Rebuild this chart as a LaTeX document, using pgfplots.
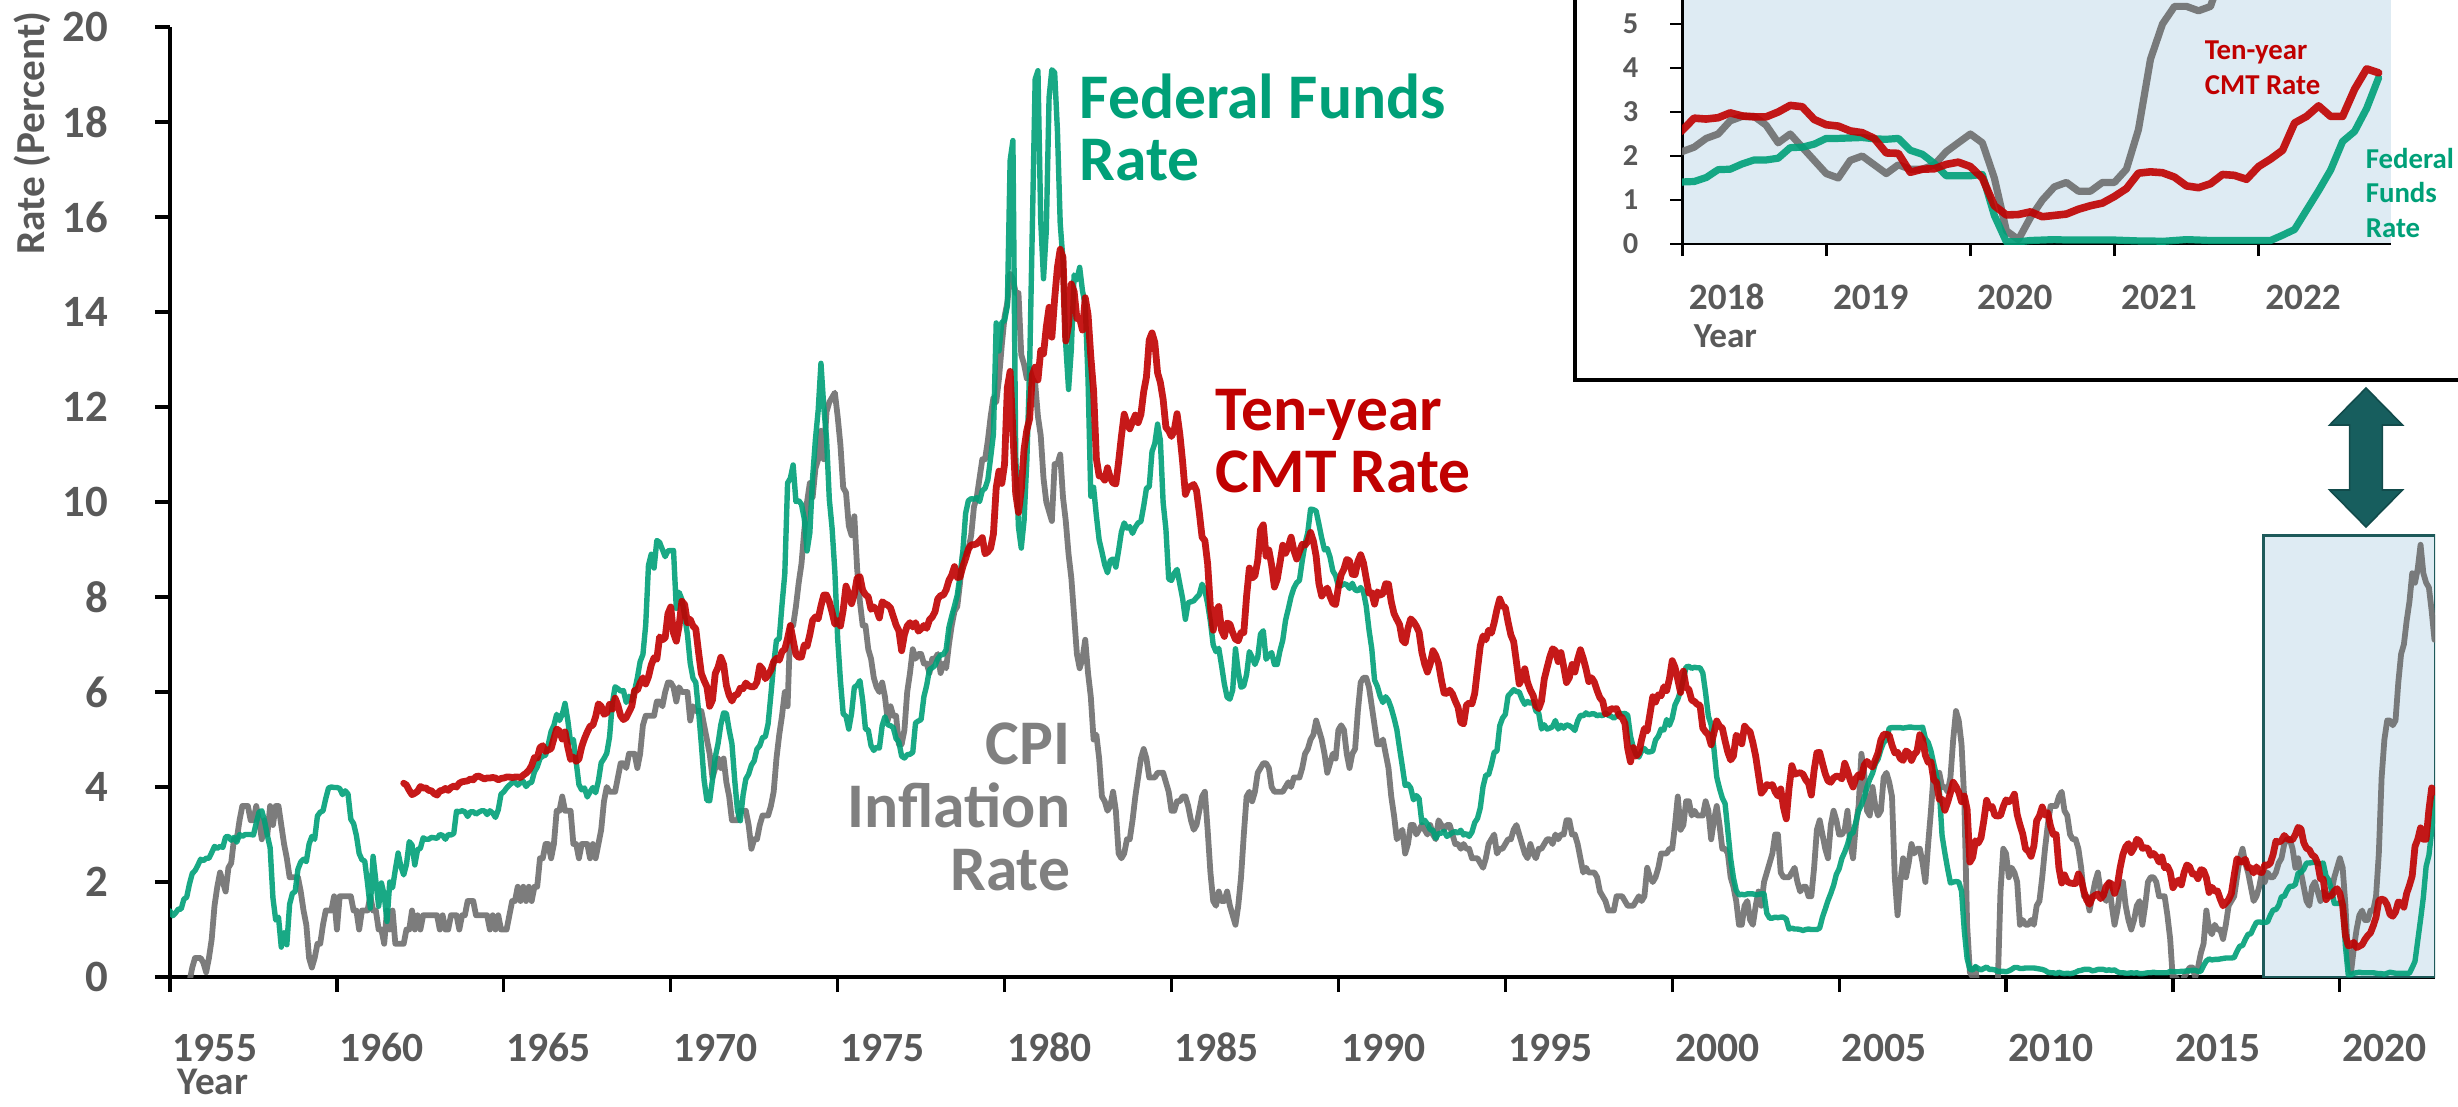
\documentclass[border=0pt]{standalone}
\usepackage{pgfplots}
\pgfplotsset{compat=1.18}
\usepackage{pgfplotstable}
\usepackage{fontspec}
\setmainfont{Carlito}

\definecolor{ffgreen}{RGB}{0,160,120}
\definecolor{cmtred}{RGB}{192,0,0}
\definecolor{cpigrey}{RGB}{110,110,110}
\definecolor{cpitext}{RGB}{128,128,128}
\definecolor{ticktext}{RGB}{89,89,89}
\definecolor{lightblue}{RGB}{222,235,243}
\definecolor{boxteal}{RGB}{30,90,90}
\definecolor{arrowteal}{RGB}{23,94,94}

% Effective federal funds rate, monthly from Jan 1955
\pgfplotstableread[row sep=\\, header=false]{
1.39\\1.29\\1.35\\1.43\\1.43\\1.64\\1.68\\1.96\\2.18\\2.24\\2.35\\2.48\\
2.45\\2.50\\2.50\\2.62\\2.75\\2.71\\2.75\\2.73\\2.95\\2.96\\2.88\\2.94\\
2.84\\3.00\\2.96\\3.00\\3.00\\3.00\\2.99\\3.24\\3.47\\3.50\\3.28\\2.98\\
2.72\\1.67\\1.20\\1.26\\0.63\\0.93\\0.68\\1.53\\1.76\\1.80\\2.27\\2.42\\
2.48\\2.43\\2.80\\2.96\\2.90\\3.39\\3.47\\3.50\\3.76\\3.98\\4.00\\3.99\\
3.99\\3.97\\3.84\\3.92\\3.85\\3.32\\3.23\\2.98\\2.60\\2.47\\2.44\\1.98\\
1.45\\2.54\\2.02\\1.49\\1.98\\1.73\\1.17\\2.00\\1.88\\2.26\\2.61\\2.33\\
2.15\\2.37\\2.85\\2.78\\2.36\\2.68\\2.71\\2.93\\2.90\\2.90\\2.94\\2.93\\
2.92\\3.00\\2.98\\2.90\\3.00\\2.99\\3.02\\3.49\\3.48\\3.50\\3.48\\3.38\\
3.48\\3.48\\3.43\\3.47\\3.50\\3.50\\3.42\\3.50\\3.45\\3.36\\3.52\\3.85\\
3.90\\3.98\\4.04\\4.09\\4.10\\4.04\\4.09\\4.12\\4.01\\4.08\\4.10\\4.32\\
4.42\\4.60\\4.65\\4.67\\4.90\\5.17\\5.30\\5.53\\5.40\\5.53\\5.76\\5.40\\
4.94\\5.00\\4.53\\4.05\\3.94\\3.98\\3.79\\3.90\\3.99\\3.88\\4.13\\4.51\\
4.60\\4.71\\5.05\\5.76\\6.11\\6.07\\6.02\\6.03\\5.78\\5.91\\5.82\\6.02\\
6.30\\6.64\\6.79\\7.41\\8.67\\8.90\\8.61\\9.19\\9.15\\9.00\\8.85\\8.97\\
8.98\\8.98\\7.76\\8.10\\7.95\\7.61\\7.21\\6.61\\6.29\\6.20\\5.60\\4.90\\
4.14\\3.72\\3.71\\4.15\\4.63\\4.91\\5.31\\5.56\\5.55\\5.20\\4.91\\4.14\\
3.50\\3.29\\3.83\\4.17\\4.27\\4.46\\4.55\\4.80\\4.87\\5.04\\5.06\\5.33\\
5.94\\6.58\\7.09\\7.12\\7.84\\8.49\\10.40\\10.50\\10.78\\10.01\\10.03\\9.95\\
9.65\\8.97\\9.35\\10.51\\11.31\\11.93\\12.92\\12.01\\11.34\\10.06\\9.45\\8.53\\
7.13\\6.24\\5.54\\5.49\\5.22\\5.55\\6.10\\6.14\\6.24\\5.82\\5.22\\5.20\\
4.87\\4.77\\4.84\\4.82\\5.29\\5.48\\5.31\\5.29\\5.25\\5.02\\4.95\\4.65\\
4.61\\4.68\\4.69\\4.73\\5.35\\5.39\\5.42\\5.90\\6.14\\6.47\\6.51\\6.56\\
6.70\\6.78\\6.79\\6.89\\7.36\\7.60\\7.81\\8.04\\8.45\\8.96\\9.76\\10.03\\
10.07\\10.06\\10.09\\10.01\\10.24\\10.29\\10.47\\10.94\\11.43\\13.77\\13.18\\13.78\\
13.82\\14.13\\17.19\\17.61\\10.98\\9.47\\9.03\\9.61\\10.87\\12.81\\15.85\\18.90\\
19.08\\15.93\\14.70\\15.72\\18.52\\19.10\\19.04\\17.82\\15.87\\15.08\\13.31\\12.37\\
13.22\\14.78\\14.68\\14.94\\14.45\\14.15\\12.59\\10.12\\10.31\\9.71\\9.20\\8.95\\
8.68\\8.51\\8.77\\8.80\\8.63\\8.98\\9.37\\9.56\\9.45\\9.48\\9.34\\9.47\\
9.56\\9.59\\9.91\\10.29\\10.32\\11.06\\11.23\\11.64\\11.30\\9.99\\9.43\\8.38\\
8.35\\8.50\\8.58\\8.27\\7.97\\7.53\\7.88\\7.90\\7.92\\7.99\\8.05\\8.27\\
8.14\\7.86\\7.48\\6.99\\6.85\\6.92\\6.56\\6.17\\5.89\\5.85\\6.04\\6.91\\
6.43\\6.10\\6.13\\6.37\\6.85\\6.73\\6.58\\6.73\\7.22\\7.29\\6.69\\6.77\\
6.83\\6.58\\6.58\\6.87\\7.09\\7.51\\7.75\\8.01\\8.19\\8.30\\8.35\\8.76\\
9.12\\9.36\\9.85\\9.84\\9.81\\9.53\\9.24\\8.99\\9.02\\8.84\\8.55\\8.45\\
8.23\\8.24\\8.28\\8.26\\8.18\\8.29\\8.15\\8.13\\8.20\\8.11\\7.81\\7.31\\
6.91\\6.25\\6.12\\5.91\\5.78\\5.90\\5.82\\5.66\\5.45\\5.21\\4.81\\4.43\\
4.03\\4.06\\3.98\\3.73\\3.82\\3.76\\3.25\\3.30\\3.22\\3.10\\3.09\\2.92\\
3.02\\3.03\\3.07\\2.96\\3.00\\3.04\\3.06\\3.03\\3.09\\2.99\\3.02\\2.96\\
3.05\\3.25\\3.34\\3.56\\4.01\\4.25\\4.26\\4.47\\4.73\\4.76\\5.29\\5.45\\
5.53\\5.92\\5.98\\6.05\\6.01\\6.00\\5.85\\5.74\\5.80\\5.76\\5.80\\5.60\\
5.56\\5.22\\5.31\\5.22\\5.24\\5.27\\5.40\\5.22\\5.30\\5.24\\5.31\\5.29\\
5.25\\5.19\\5.39\\5.51\\5.50\\5.56\\5.52\\5.54\\5.54\\5.50\\5.52\\5.50\\
5.56\\5.51\\5.49\\5.45\\5.49\\5.56\\5.54\\5.55\\5.51\\5.07\\4.83\\4.68\\
4.63\\4.76\\4.81\\4.74\\4.74\\4.76\\4.99\\5.07\\5.22\\5.20\\5.42\\5.30\\
5.45\\5.73\\5.85\\6.02\\6.27\\6.53\\6.54\\6.50\\6.52\\6.51\\6.51\\6.40\\
5.98\\5.49\\5.31\\4.80\\4.21\\3.97\\3.77\\3.65\\3.07\\2.49\\2.09\\1.82\\
1.73\\1.74\\1.73\\1.75\\1.75\\1.75\\1.73\\1.74\\1.75\\1.75\\1.34\\1.24\\
1.24\\1.26\\1.25\\1.26\\1.26\\1.22\\1.01\\1.03\\1.01\\1.01\\1.00\\0.98\\
1.00\\1.01\\1.00\\1.00\\1.00\\1.03\\1.26\\1.43\\1.61\\1.76\\1.93\\2.16\\
2.28\\2.50\\2.63\\2.79\\3.00\\3.04\\3.26\\3.50\\3.62\\3.78\\4.00\\4.16\\
4.29\\4.49\\4.59\\4.79\\4.94\\4.99\\5.24\\5.25\\5.25\\5.25\\5.25\\5.24\\
5.25\\5.26\\5.26\\5.25\\5.25\\5.25\\5.26\\5.02\\4.94\\4.76\\4.49\\4.24\\
3.94\\2.98\\2.61\\2.28\\1.98\\2.00\\2.01\\2.00\\1.81\\0.97\\0.39\\0.16\\
0.15\\0.22\\0.18\\0.15\\0.18\\0.21\\0.16\\0.16\\0.15\\0.12\\0.12\\0.12\\
0.11\\0.13\\0.16\\0.20\\0.20\\0.18\\0.18\\0.19\\0.19\\0.19\\0.19\\0.18\\
0.17\\0.16\\0.14\\0.10\\0.09\\0.09\\0.07\\0.10\\0.08\\0.07\\0.08\\0.07\\
0.08\\0.10\\0.13\\0.14\\0.16\\0.16\\0.16\\0.13\\0.14\\0.16\\0.16\\0.16\\
0.14\\0.15\\0.14\\0.15\\0.11\\0.09\\0.09\\0.08\\0.08\\0.09\\0.08\\0.09\\
0.07\\0.07\\0.08\\0.09\\0.09\\0.10\\0.09\\0.09\\0.09\\0.09\\0.09\\0.12\\
0.11\\0.11\\0.11\\0.12\\0.12\\0.13\\0.13\\0.14\\0.14\\0.12\\0.12\\0.24\\
0.34\\0.38\\0.36\\0.37\\0.37\\0.38\\0.39\\0.40\\0.40\\0.40\\0.41\\0.54\\
0.65\\0.66\\0.79\\0.90\\0.91\\1.04\\1.15\\1.16\\1.15\\1.15\\1.16\\1.30\\
1.41\\1.42\\1.51\\1.69\\1.70\\1.82\\1.91\\1.91\\1.95\\2.19\\2.20\\2.27\\
2.40\\2.40\\2.41\\2.42\\2.39\\2.38\\2.40\\2.13\\2.04\\1.83\\1.55\\1.55\\
1.55\\1.58\\0.65\\0.05\\0.05\\0.08\\0.09\\0.10\\0.09\\0.09\\0.09\\0.09\\
0.09\\0.08\\0.07\\0.07\\0.06\\0.08\\0.10\\0.09\\0.08\\0.08\\0.08\\0.08\\
0.08\\0.08\\0.20\\0.33\\0.77\\1.21\\1.68\\2.33\\2.56\\3.08\\3.78\\
}\ffr

% CPI inflation (year over year), monthly from Jan 1955
\pgfplotstableread[row sep=\\, header=false]{
-0.7\\-0.7\\-0.7\\-0.4\\-0.7\\-0.4\\-0.4\\-0.1\\0.2\\0.4\\0.4\\0.4\\
0.3\\0.1\\0.4\\0.8\\1.5\\1.9\\2.2\\2.0\\1.8\\2.3\\2.4\\2.9\\
2.9\\3.3\\3.6\\3.6\\3.6\\3.3\\3.3\\3.6\\3.3\\2.9\\3.3\\3.0\\
3.6\\3.2\\3.6\\3.6\\3.2\\2.8\\2.5\\2.1\\2.1\\2.1\\2.1\\1.8\\
1.4\\1.1\\0.4\\0.2\\0.4\\0.7\\0.7\\1.1\\1.4\\1.4\\1.4\\1.7\\
1.0\\1.7\\1.7\\1.7\\1.7\\1.7\\1.4\\1.4\\1.0\\1.4\\1.4\\1.4\\
1.7\\1.4\\1.4\\1.0\\1.0\\0.7\\1.4\\1.0\\1.4\\0.7\\0.7\\0.7\\
0.7\\1.0\\1.0\\1.4\\1.0\\1.3\\1.0\\1.3\\1.3\\1.3\\1.3\\1.3\\
1.3\\1.0\\1.3\\1.0\\1.0\\1.3\\1.3\\1.3\\1.0\\1.3\\1.3\\1.6\\
1.6\\1.6\\1.3\\1.3\\1.3\\1.3\\1.3\\1.0\\1.3\\1.0\\1.3\\1.0\\
1.0\\1.0\\1.3\\1.6\\1.6\\1.9\\1.6\\1.9\\1.6\\1.9\\1.6\\1.9\\
1.9\\2.5\\2.5\\2.8\\2.8\\2.5\\2.8\\3.5\\3.5\\3.8\\3.5\\3.5\\
3.5\\2.8\\2.8\\2.5\\2.8\\2.8\\2.8\\2.5\\2.8\\2.5\\2.8\\3.1\\
3.7\\4.0\\3.9\\3.9\\3.9\\4.2\\4.5\\4.5\\4.4\\4.7\\4.7\\4.7\\
4.4\\4.7\\5.3\\5.5\\5.5\\5.5\\5.5\\5.8\\5.8\\5.7\\6.0\\6.2\\
6.2\\6.1\\5.8\\6.1\\6.0\\6.0\\6.0\\5.4\\5.7\\5.6\\5.6\\5.6\\
5.3\\5.0\\4.7\\4.2\\4.4\\4.6\\4.4\\4.6\\4.1\\3.8\\3.3\\3.3\\
3.3\\3.5\\3.5\\3.5\\3.2\\2.7\\2.9\\2.9\\3.2\\3.4\\3.4\\3.4\\
3.6\\3.9\\4.6\\5.1\\5.5\\6.0\\5.7\\7.4\\7.4\\7.8\\8.3\\8.7\\
9.4\\10.0\\10.4\\10.1\\10.7\\10.9\\11.5\\10.9\\11.9\\12.1\\12.2\\12.3\\
11.8\\11.2\\10.3\\10.2\\9.5\\9.3\\9.7\\8.6\\7.9\\7.4\\7.4\\6.9\\
6.7\\6.3\\6.1\\6.0\\6.2\\5.9\\5.4\\5.7\\5.5\\5.5\\4.9\\4.9\\
5.2\\6.0\\6.4\\6.9\\6.7\\6.8\\6.8\\6.6\\6.6\\6.4\\6.7\\6.7\\
6.8\\6.4\\6.6\\6.5\\7.0\\7.4\\7.7\\7.8\\8.3\\8.9\\8.9\\9.0\\
9.3\\9.9\\10.1\\10.5\\10.9\\10.9\\11.3\\11.8\\12.2\\12.1\\12.6\\13.3\\
13.9\\14.2\\14.8\\14.7\\14.4\\14.4\\13.1\\12.9\\12.6\\12.8\\12.6\\12.5\\
11.8\\11.4\\10.5\\10.0\\9.8\\9.6\\10.8\\10.8\\11.0\\10.1\\9.6\\8.9\\
8.4\\7.6\\6.8\\6.5\\6.7\\7.1\\6.4\\5.9\\5.0\\5.1\\4.6\\3.8\\
3.7\\3.5\\3.6\\3.9\\3.5\\2.6\\2.5\\2.6\\2.9\\2.9\\3.3\\3.8\\
4.2\\4.6\\4.8\\4.6\\4.2\\4.2\\4.2\\4.3\\4.3\\4.3\\4.1\\3.9\\
3.5\\3.5\\3.7\\3.7\\3.8\\3.8\\3.6\\3.3\\3.1\\3.2\\3.5\\3.8\\
3.9\\3.1\\2.2\\1.6\\1.5\\1.8\\1.6\\1.6\\1.8\\1.5\\1.3\\1.1\\
1.5\\2.1\\3.0\\3.8\\3.9\\3.7\\3.9\\4.3\\4.4\\4.5\\4.5\\4.4\\
4.0\\3.9\\3.9\\3.9\\3.9\\4.0\\4.1\\4.0\\4.2\\4.2\\4.2\\4.4\\
4.7\\4.8\\5.0\\5.1\\5.4\\5.2\\5.0\\4.7\\4.3\\4.5\\4.7\\4.6\\
5.2\\5.3\\5.2\\4.7\\4.4\\4.7\\4.8\\5.6\\6.2\\6.3\\6.3\\6.1\\
5.7\\5.3\\4.9\\4.9\\5.0\\4.7\\4.4\\3.8\\3.4\\2.9\\3.0\\3.1\\
2.6\\2.8\\3.2\\3.2\\3.0\\3.1\\3.2\\3.1\\3.0\\3.2\\3.0\\2.9\\
3.3\\3.2\\3.1\\3.2\\3.2\\3.0\\2.8\\2.8\\2.7\\2.8\\2.7\\2.7\\
2.5\\2.5\\2.5\\2.4\\2.3\\2.5\\2.8\\2.9\\3.0\\2.6\\2.7\\2.7\\
2.8\\2.9\\2.9\\3.1\\3.2\\3.0\\2.8\\2.6\\2.5\\2.8\\2.6\\2.5\\
2.7\\2.7\\2.8\\2.9\\2.9\\2.8\\3.0\\2.9\\3.0\\3.0\\3.3\\3.3\\
3.0\\3.0\\2.8\\2.5\\2.2\\2.3\\2.2\\2.2\\2.2\\2.1\\1.8\\1.7\\
1.6\\1.4\\1.4\\1.4\\1.7\\1.7\\1.7\\1.6\\1.5\\1.5\\1.5\\1.6\\
1.7\\1.6\\1.7\\2.3\\2.1\\2.0\\2.1\\2.3\\2.6\\2.6\\2.6\\2.7\\
2.7\\3.2\\3.8\\3.1\\3.2\\3.7\\3.7\\3.4\\3.5\\3.4\\3.4\\3.4\\
3.7\\3.5\\2.9\\3.3\\3.6\\3.2\\2.7\\2.7\\2.6\\2.1\\1.9\\1.6\\
1.1\\1.1\\1.5\\1.6\\1.2\\1.1\\1.5\\1.8\\1.5\\2.0\\2.2\\2.4\\
2.6\\3.0\\3.0\\2.2\\2.1\\2.1\\2.1\\2.2\\2.3\\2.0\\1.8\\1.9\\
1.9\\1.7\\1.7\\2.3\\3.1\\3.3\\3.0\\2.7\\2.5\\3.2\\3.5\\3.3\\
3.0\\3.0\\3.1\\3.5\\2.8\\2.5\\3.2\\3.6\\4.7\\4.3\\3.5\\3.4\\
4.0\\3.6\\3.4\\3.5\\4.2\\4.3\\4.1\\3.8\\2.1\\1.3\\2.0\\2.5\\
2.1\\2.4\\2.8\\2.6\\2.7\\2.7\\2.4\\2.0\\2.8\\3.5\\4.3\\4.1\\
4.3\\4.0\\4.0\\3.9\\4.2\\5.0\\5.6\\5.4\\4.9\\3.7\\1.1\\0.1\\
0.0\\0.2\\-0.4\\-0.6\\-1.3\\-1.4\\-2.1\\-1.5\\-1.3\\-0.2\\1.8\\2.7\\
2.6\\2.1\\2.3\\2.2\\2.0\\1.1\\1.2\\1.1\\1.1\\1.2\\1.1\\1.5\\
1.6\\2.1\\2.7\\3.2\\3.6\\3.6\\3.6\\3.8\\3.9\\3.5\\3.4\\3.0\\
2.9\\2.9\\2.7\\2.3\\1.7\\1.7\\1.4\\1.7\\2.0\\2.2\\1.8\\1.7\\
1.6\\2.0\\1.5\\1.1\\1.4\\1.8\\2.0\\1.5\\1.2\\1.0\\1.2\\1.5\\
1.6\\1.1\\1.5\\2.0\\2.1\\2.1\\2.0\\1.7\\1.7\\1.7\\1.3\\0.8\\
-0.1\\0.0\\-0.1\\-0.2\\0.0\\0.1\\0.2\\0.2\\0.0\\0.2\\0.5\\0.7\\
1.4\\1.0\\0.9\\1.1\\1.0\\1.0\\0.8\\1.1\\1.5\\1.6\\1.7\\2.1\\
2.5\\2.7\\2.4\\2.2\\1.9\\1.6\\1.7\\1.9\\2.2\\2.0\\2.2\\2.1\\
2.1\\2.2\\2.4\\2.5\\2.8\\2.9\\2.9\\2.7\\2.3\\2.5\\2.2\\1.9\\
1.6\\1.5\\1.9\\2.0\\1.8\\1.6\\1.8\\1.7\\1.7\\1.8\\2.1\\2.3\\
2.5\\2.3\\1.5\\0.3\\0.1\\0.6\\1.0\\1.3\\1.4\\1.2\\1.2\\1.4\\
1.4\\1.7\\2.6\\4.2\\5.0\\5.4\\5.4\\5.3\\5.4\\6.2\\6.8\\7.0\\
7.5\\7.9\\8.5\\8.3\\8.6\\9.1\\8.5\\8.3\\8.2\\7.7\\7.1\\
}\cpi

% Ten-year constant maturity Treasury rate, monthly from Jan 1962
\pgfplotstableread[row sep=\\, header=false]{
4.08\\4.04\\3.93\\3.84\\3.87\\3.91\\4.01\\3.98\\3.98\\3.93\\3.92\\3.86\\
3.83\\3.92\\3.93\\3.97\\3.93\\3.99\\4.02\\4.00\\4.08\\4.11\\4.12\\4.13\\
4.17\\4.15\\4.22\\4.23\\4.20\\4.17\\4.19\\4.19\\4.20\\4.19\\4.15\\4.18\\
4.19\\4.21\\4.21\\4.20\\4.21\\4.21\\4.20\\4.25\\4.29\\4.35\\4.45\\4.62\\
4.61\\4.83\\4.87\\4.75\\4.78\\4.81\\5.02\\5.22\\5.18\\5.01\\5.16\\4.84\\
4.58\\4.63\\4.54\\4.59\\4.85\\5.02\\5.16\\5.28\\5.30\\5.48\\5.75\\5.70\\
5.53\\5.56\\5.74\\5.64\\5.87\\5.72\\5.50\\5.42\\5.46\\5.58\\5.70\\6.03\\
6.04\\6.19\\6.30\\6.17\\6.32\\6.57\\6.72\\6.69\\7.16\\7.10\\7.14\\7.65\\
7.79\\7.24\\7.07\\7.39\\7.91\\7.84\\7.46\\7.53\\7.39\\7.33\\6.84\\6.39\\
6.24\\6.11\\5.70\\5.83\\6.39\\6.52\\6.73\\6.58\\6.14\\5.93\\5.81\\5.93\\
5.95\\6.08\\6.07\\6.19\\6.13\\6.11\\6.11\\6.21\\6.55\\6.48\\6.28\\6.36\\
6.46\\6.64\\6.71\\6.67\\6.85\\6.90\\7.13\\7.40\\7.09\\6.79\\6.73\\6.74\\
6.99\\6.96\\7.21\\7.51\\7.58\\7.54\\7.81\\8.04\\8.04\\7.90\\7.68\\7.43\\
7.50\\7.39\\7.73\\8.23\\8.06\\7.86\\8.06\\8.40\\8.43\\8.14\\8.05\\8.00\\
7.74\\7.79\\7.73\\7.56\\7.90\\7.86\\7.83\\7.77\\7.59\\7.41\\7.29\\6.87\\
7.21\\7.39\\7.46\\7.37\\7.46\\7.28\\7.33\\7.40\\7.34\\7.52\\7.58\\7.69\\
7.96\\8.03\\8.04\\8.15\\8.35\\8.46\\8.64\\8.41\\8.42\\8.64\\8.81\\9.01\\
9.10\\9.10\\9.12\\9.18\\9.25\\8.91\\8.95\\9.03\\9.33\\10.30\\10.65\\10.39\\
10.80\\12.41\\12.75\\11.47\\10.18\\9.78\\10.25\\11.10\\11.51\\11.75\\12.68\\12.84\\
12.57\\13.19\\13.12\\13.68\\14.10\\13.47\\14.28\\14.94\\15.32\\15.15\\13.39\\13.72\\
14.59\\14.43\\13.86\\13.87\\13.62\\14.30\\13.95\\13.06\\12.34\\10.91\\10.55\\10.54\\
10.46\\10.72\\10.51\\10.40\\10.38\\10.85\\11.38\\11.85\\11.65\\11.54\\11.69\\11.83\\
11.67\\11.84\\12.32\\12.63\\13.41\\13.56\\13.36\\12.72\\12.52\\12.16\\11.57\\11.50\\
11.38\\11.51\\11.86\\11.43\\10.85\\10.16\\10.31\\10.33\\10.37\\10.24\\9.78\\9.26\\
9.19\\8.70\\7.78\\7.30\\7.71\\7.80\\7.30\\7.17\\7.45\\7.43\\7.25\\7.11\\
7.08\\7.25\\7.25\\8.02\\8.61\\8.40\\8.45\\8.76\\9.42\\9.52\\8.86\\8.99\\
8.67\\8.21\\8.37\\8.72\\9.09\\8.92\\9.06\\9.26\\8.98\\8.80\\8.96\\9.11\\
9.09\\9.17\\9.36\\9.18\\8.86\\8.28\\8.02\\8.11\\8.19\\8.01\\7.87\\7.84\\
8.21\\8.47\\8.59\\8.79\\8.76\\8.48\\8.47\\8.75\\8.89\\8.72\\8.39\\8.08\\
8.09\\7.85\\8.11\\8.04\\8.07\\8.28\\8.27\\7.90\\7.65\\7.53\\7.42\\7.09\\
7.03\\7.34\\7.54\\7.48\\7.39\\7.26\\6.84\\6.59\\6.42\\6.59\\6.87\\6.77\\
6.60\\6.26\\5.98\\5.97\\6.04\\5.96\\5.81\\5.68\\5.36\\5.33\\5.72\\5.77\\
5.75\\5.97\\6.48\\6.97\\7.18\\7.10\\7.30\\7.24\\7.46\\7.74\\7.96\\7.81\\
7.78\\7.47\\7.20\\7.06\\6.63\\6.17\\6.28\\6.49\\6.20\\6.04\\5.93\\5.71\\
5.65\\5.81\\6.27\\6.51\\6.74\\6.91\\6.87\\6.64\\6.83\\6.53\\6.20\\6.30\\
6.58\\6.42\\6.69\\6.89\\6.71\\6.49\\6.22\\6.30\\6.21\\6.03\\5.88\\5.81\\
5.54\\5.57\\5.65\\5.64\\5.65\\5.50\\5.46\\5.34\\4.81\\4.53\\4.83\\4.65\\
4.72\\5.00\\5.23\\5.18\\5.54\\5.90\\5.79\\5.94\\5.92\\6.11\\6.03\\6.28\\
6.66\\6.52\\6.26\\5.99\\6.44\\6.10\\6.05\\5.83\\5.80\\5.74\\5.72\\5.24\\
5.16\\5.10\\4.89\\5.14\\5.39\\5.28\\5.24\\4.97\\4.73\\4.57\\4.65\\5.09\\
5.04\\4.91\\5.28\\5.21\\5.16\\4.93\\4.65\\4.26\\3.87\\3.94\\4.05\\4.03\\
4.05\\3.90\\3.81\\3.96\\3.57\\3.33\\3.98\\4.45\\4.27\\4.29\\4.30\\4.27\\
4.15\\4.08\\3.83\\4.35\\4.72\\4.73\\4.50\\4.28\\4.13\\4.10\\4.19\\4.23\\
4.22\\4.17\\4.50\\4.34\\4.14\\4.00\\4.18\\4.26\\4.20\\4.46\\4.54\\4.47\\
4.42\\4.57\\4.72\\4.99\\5.11\\5.11\\5.09\\4.88\\4.72\\4.73\\4.60\\4.56\\
4.76\\4.72\\4.56\\4.69\\4.75\\5.10\\5.00\\4.67\\4.52\\4.53\\4.15\\4.10\\
3.74\\3.74\\3.51\\3.68\\3.88\\4.10\\4.01\\3.89\\3.69\\3.81\\3.53\\2.42\\
2.52\\2.87\\2.82\\2.93\\3.29\\3.72\\3.56\\3.59\\3.40\\3.39\\3.40\\3.59\\
3.73\\3.69\\3.73\\3.85\\3.42\\3.20\\3.01\\2.70\\2.65\\2.54\\2.76\\3.29\\
3.39\\3.58\\3.41\\3.46\\3.17\\3.00\\3.00\\2.30\\1.98\\2.15\\2.01\\1.98\\
1.97\\1.97\\2.17\\2.05\\1.80\\1.62\\1.53\\1.68\\1.72\\1.75\\1.65\\1.72\\
1.91\\1.98\\1.96\\1.76\\1.93\\2.30\\2.58\\2.74\\2.81\\2.62\\2.72\\2.90\\
2.86\\2.71\\2.72\\2.71\\2.56\\2.60\\2.54\\2.42\\2.53\\2.30\\2.33\\2.21\\
1.88\\1.98\\2.04\\1.94\\2.20\\2.36\\2.32\\2.17\\2.17\\2.07\\2.26\\2.24\\
2.09\\1.78\\1.89\\1.81\\1.81\\1.64\\1.50\\1.56\\1.63\\1.76\\2.14\\2.49\\
2.43\\2.42\\2.48\\2.30\\2.30\\2.19\\2.32\\2.21\\2.20\\2.36\\2.35\\2.40\\
2.58\\2.86\\2.84\\2.87\\2.98\\2.91\\2.89\\2.89\\3.00\\3.15\\3.12\\2.83\\
2.71\\2.68\\2.57\\2.53\\2.40\\2.07\\2.06\\1.63\\1.70\\1.71\\1.81\\1.86\\
1.76\\1.50\\0.87\\0.66\\0.67\\0.73\\0.62\\0.65\\0.68\\0.79\\0.87\\0.93\\
1.08\\1.26\\1.61\\1.64\\1.62\\1.52\\1.32\\1.28\\1.37\\1.58\\1.56\\1.47\\
1.76\\1.93\\2.13\\2.75\\2.90\\3.14\\2.90\\2.90\\3.52\\3.98\\3.89\\
}\gsten

\begin{document}
\begin{tikzpicture}[font=\bfseries]
\useasboundingbox (0,0) rectangle (614.5pt,276.5pt);

% ---------------- main chart ----------------
\begin{axis}[
  at={(42.5pt,32.25pt)}, anchor=south west,
  scale only axis, width=566.25pt, height=237.5pt,
  xmin=1955, xmax=2022.85, ymin=0, ymax=20,
  axis lines=left,
  axis line style={-, line width=0.8pt, black},
  tick align=outside, major tick length=3.75pt,
  tick style={black, line width=0.8pt},
  xtick={1955,1960,...,2020}, ytick={0,2,...,20},
  /pgf/number format/1000 sep={},
  /pgf/number format/assume math mode=true,
  xticklabel style={font=\bfseries\fontsize{10.4}{10.4}\selectfont, text=ticktext,
    anchor=base west, inner sep=0pt, xshift=0.5pt, yshift=-17.25pt},
  yticklabel style={font=\bfseries\fontsize{11.2}{11.2}\selectfont, text=ticktext,
    anchor=east, inner sep=0pt, xshift=-11.5pt},
  every axis plot/.append style={line join=round, line cap=round, opacity=0.9},
]
\filldraw[fill=lightblue, draw=boxteal, line width=0.7pt]
  (axis cs:2017.7,0) rectangle (axis cs:2022.85,9.3);
\addplot[no marks, cpigrey, line width=1.45pt]
  table[x expr=1955+\coordindex/12, y index=0] {\cpi};
\addplot[no marks, ffgreen, line width=1.35pt]
  table[x expr=1955+\coordindex/12, y index=0] {\ffr};
\addplot[no marks, cmtred, line width=1.7pt]
  table[x expr=1962+\coordindex/12, y index=0] {\gsten};
\end{axis}

% axis titles of the main chart
\node[rotate=90, anchor=base, inner sep=0pt, text=ticktext,
  font=\bfseries\fontsize{10.3}{10.3}\selectfont] at (11pt,243.25pt) {Rate (Percent)};
\node[anchor=base west, inner sep=0pt, text=ticktext,
  font=\bfseries\fontsize{9.8}{9.8}\selectfont] at (44.25pt,2.8pt) {Year};

% series labels of the main chart
\begin{scope}[every node/.style={inner sep=0pt, font=\bfseries\fontsize{15.9}{15.9}\selectfont}]
\node[anchor=base west, text=ffgreen] at (269.75pt,247pt) {Federal Funds};
\node[anchor=base west, text=ffgreen] at (269.75pt,231.5pt) {Rate};
\node[anchor=base west, text=cmtred] at (303.75pt,169pt) {Ten-year};
\node[anchor=base west, text=cmtred] at (303.75pt,153.5pt) {CMT Rate};
\node[anchor=base east, text=cpitext] at (267.75pt,85.5pt) {CPI};
\node[anchor=base east, text=cpitext] at (267.75pt,69.75pt) {Inflation};
\node[anchor=base east, text=cpitext] at (267.75pt,54pt) {Rate};
\end{scope}

% double arrow
\filldraw[fill=arrowteal, draw=arrowteal!80!black, line width=0.4pt]
  (591.5pt,179.5pt) -- (600.6pt,170.25pt) -- (595.6pt,170.25pt) -- (595.6pt,154pt)
  -- (600.6pt,154pt) -- (591.5pt,144.75pt) -- (582.4pt,154pt) -- (587.4pt,154pt)
  -- (587.4pt,170.25pt) -- (582.4pt,170.25pt) -- cycle;

% ---------------- inset ----------------
\filldraw[fill=white, draw=black, line width=0.8pt] (393.75pt,181.5pt) rectangle (620pt,280pt);
\begin{axis}[
  at={(420.5pt,215.5pt)}, anchor=south west,
  scale only axis, width=177.25pt, height=66pt,
  xmin=2018, xmax=2022.92, ymin=0, ymax=6,
  axis background/.style={fill=lightblue},
  axis lines=left,
  axis line style={-, line width=0.7pt, black},
  tick align=outside, major tick length=3pt,
  tick style={black, line width=0.7pt},
  xtick={2018,...,2022}, ytick={0,...,5},
  /pgf/number format/1000 sep={},
  /pgf/number format/assume math mode=true,
  xticklabel style={font=\bfseries\fontsize{9.3}{9.3}\selectfont, text=ticktext,
    anchor=base west, inner sep=0pt, xshift=1.5pt, yshift=-13.25pt},
  yticklabel style={font=\bfseries\fontsize{7.6}{7.6}\selectfont, text=ticktext,
    anchor=east, inner sep=0pt, xshift=-7.75pt},
  every axis plot/.append style={line join=round, line cap=round, opacity=0.9},
]
\addplot[no marks, cpigrey, line width=1.8pt]
  table[x expr=1955+\coordindex/12, y index=0] {\cpi};
\addplot[no marks, ffgreen, line width=1.8pt]
  table[x expr=1955+\coordindex/12, y index=0] {\ffr};
\addplot[no marks, cmtred, line width=1.9pt]
  table[x expr=1962+\coordindex/12, y index=0] {\gsten};
\end{axis}
\node[anchor=base west, inner sep=0pt, text=ticktext,
  font=\bfseries\fontsize{8.8}{8.8}\selectfont] at (423.25pt,189.75pt) {Year};
\begin{scope}[every node/.style={inner sep=0pt, anchor=base west, font=\bfseries\fontsize{7.2}{7.2}\selectfont}]
\node[text=cmtred] at (551pt,261.75pt) {Ten-year};
\node[text=cmtred] at (551pt,252.75pt) {CMT Rate};
\node[text=ffgreen] at (591.25pt,234.5pt) {Federal};
\node[text=ffgreen] at (591.25pt,225.75pt) {Funds};
\node[text=ffgreen] at (591.25pt,217.25pt) {Rate};
\end{scope}
\end{tikzpicture}
\end{document}
